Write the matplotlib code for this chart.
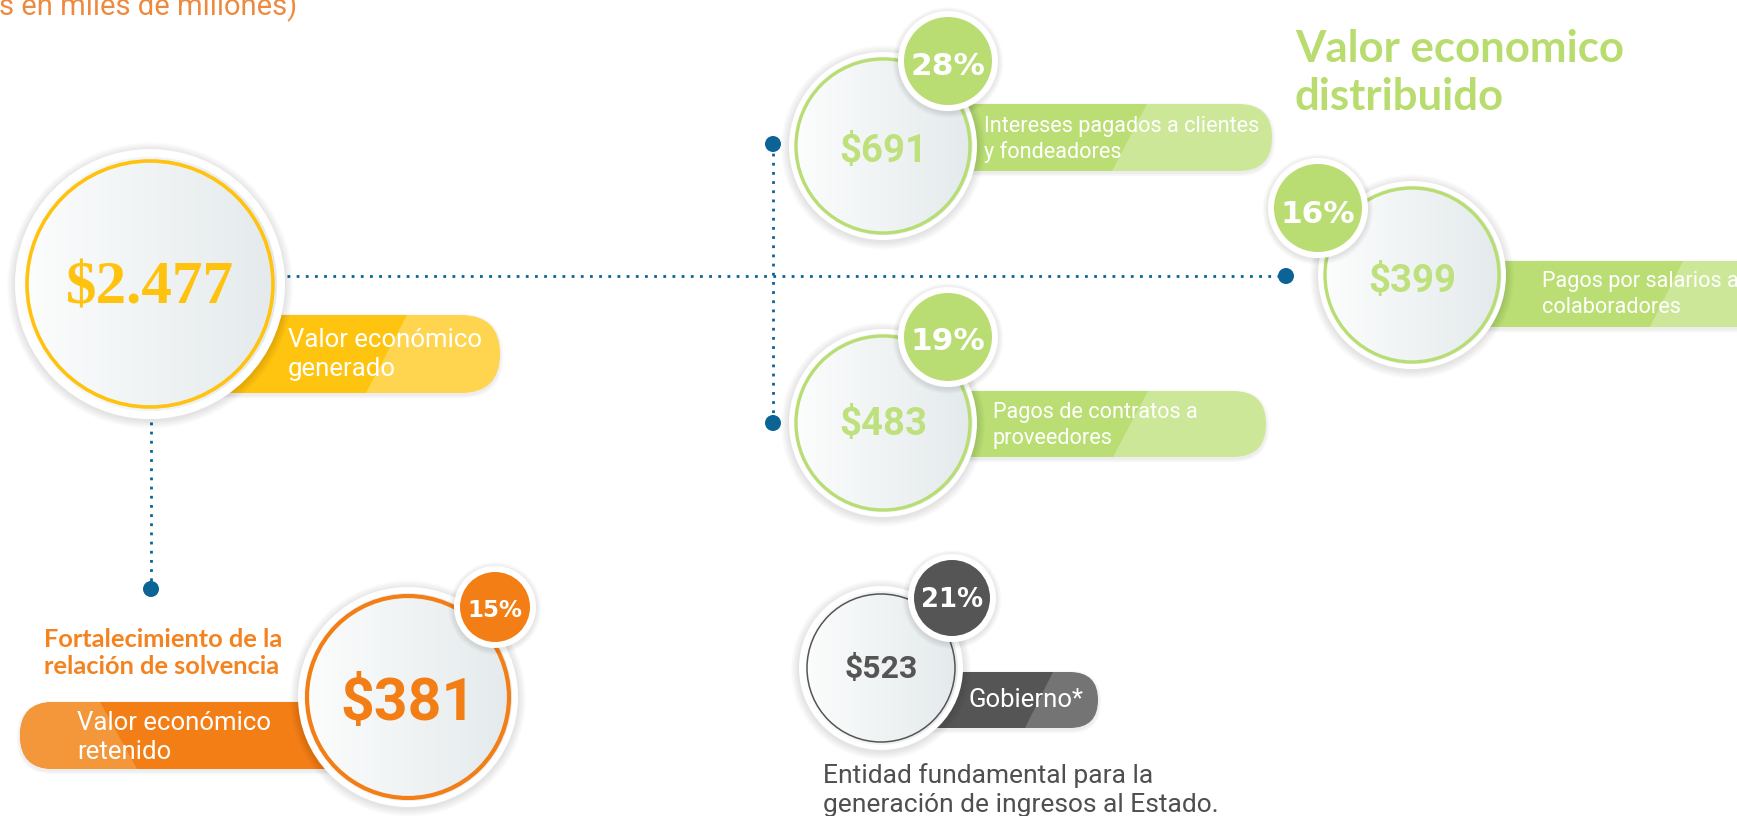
import matplotlib
matplotlib.use('Agg')
import matplotlib.pyplot as plt
import numpy as np
from matplotlib.patches import Circle, FancyBboxPatch, Polygon
from matplotlib.colors import LinearSegmentedColormap

# ---------------- data ----------------
labels = ['Valor económico\ngenerado',
          'Intereses pagados a clientes\ny fondeadores',
          'Pagos de contratos a\nproveedores',
          'Pagos por salarios a\ncolaboradores',
          'Gobierno*',
          'Valor económico\nretenido']
values = [2477, 691, 483, 399, 523, 381]          # miles de millones
shares = [None, 28, 19, 16, 21, 15]               # % del valor generado
title_dist = ['Valor economico', 'distribuido']
subtitle = 's en miles de millones)'
note_retenido = ['Fortalecimiento de la', 'relación de solvencia']
note_gob = ['Entidad fundamental para la', 'generación de ingresos al Estado.']


def money(v):
    s = f"{v:,}".replace(',', '.')
    return '$' + s

# ---------------- styles ----------------
THEMES = {
    'yellow': dict(ring='#FFC20E', dark='#FFC40F', light='#FFD54F', val='#FFC20E', badge='#FFC20E'),
    'green': dict(ring='#B8DD72', dark='#BADE74', light='#CDE799', val='#BFE17D', badge='#B9DD73'),
    'orange': dict(ring='#F47E16', dark='#F47E16', light='#F4973B', val='#F47E16', badge='#F47E16'),
    'gray': dict(ring='#555555', dark='#555555', light='#747474', val='#555555', badge='#555555'),
}
BLUE = '#0B6396'

# layout in pixel coordinates (figure 1737x816)
nodes = [
    dict(theme='yellow', c=(150, 284), r=123, lw=2.6, halo=135,
         pill=(190, 315, 500, 393), split=(407, 366), dark_left=True,
         lab_x=288, lab_base=[347, 376], lab_fs=18.5,
         val_base=303, val_fs=44, val_font='Liberation Serif', badge=None),
    dict(theme='green', c=(883, 146), r=87, lw=2.4, halo=94,
         pill=(900, 104, 1272, 171), split=(1147, 1112), dark_left=True,
         lab_x=984, lab_base=[132, 158], lab_fs=15.6,
         val_base=162, val_fs=27.5, val_font='Roboto',
         badge=((948, 61), 44, 22.5, 75)),
    dict(theme='green', c=(883, 423), r=87, lw=2.4, halo=94,
         pill=(900, 391, 1266, 457), split=(1148, 1113), dark_left=True,
         lab_x=993, lab_base=[418, 444], lab_fs=15.6,
         val_base=435, val_fs=27.5, val_font='Roboto',
         badge=((948, 337), 44, 22.5, 350)),
    dict(theme='green', c=(1412, 275), r=87, lw=2.4, halo=94,
         pill=(1450, 261, 1800, 327), split=(1683, 1650), dark_left=True,
         lab_x=1542, lab_base=[287, 313], lab_fs=15.6,
         val_base=292, val_fs=27.5, val_font='Roboto',
         badge=((1318, 208), 44, 22.5, 223)),
    dict(theme='gray', c=(881, 668), r=74, lw=1.1, halo=82,
         pill=(880, 672, 1098, 728), split=(1053, 1025), dark_left=True,
         lab_x=969, lab_base=[707], lab_fs=18.5,
         val_base=678, val_fs=23, val_font='Roboto',
         badge=((952, 598), 38, 18.7, 607)),
    dict(theme='orange', c=(408, 697), r=101, lw=3.0, halo=110,
         pill=(20, 702, 420, 769), split=(100, 137), dark_left=False,
         lab_x=77, lab_base=[730, 759], lab_fs=18.5,
         val_base=720, val_fs=42.5, val_font='Roboto',
         badge=((495, 607), 35, 16.5, 617)),
]

W, H = 1737, 816
fig = plt.figure(figsize=(W / 100, H / 100), dpi=100)
ax = fig.add_axes([0, 0, 1, 1])
ax.set_xlim(0, W)
ax.set_ylim(H, 0)
ax.axis('off')

gcmap = LinearSegmentedColormap.from_list('g', ['#FCFDFD', '#E4EAEC'])
grad = np.linspace(0, 1, 256).reshape(1, -1)


def soft_shadow(cx, cy, r, z, steps=9, a=0.010):
    for k in range(steps, 0, -1):
        ax.add_patch(Circle((cx, cy + 1.5), r + k * 0.9, facecolor='#000000',
                            edgecolor='none', alpha=a, zorder=z))


def pill(node, z=2):
    th = THEMES[node['theme']]
    x0, y0, x1, y1 = node['pill']
    h = y1 - y0
    for k in range(6, 0, -1):
        ax.add_patch(FancyBboxPatch((x0 - k * 0.6, y0 + 2 - k * 0.6), x1 - x0 + k * 1.2, h + k * 1.2,
                                    boxstyle=f"round,pad=0,rounding_size={h / 2 + k * 0.6}",
                                    facecolor='#000000', edgecolor='none', alpha=0.012, zorder=z))
    base_col = th['light'] if node['dark_left'] else th['dark']
    other_col = th['dark'] if node['dark_left'] else th['light']
    p = FancyBboxPatch((x0, y0), x1 - x0, h, boxstyle=f"round,pad=0,rounding_size={h / 2}",
                       facecolor=base_col, edgecolor='none', zorder=z + 0.1)
    ax.add_patch(p)
    st, sb = node['split']
    poly = Polygon([(x0 - 20, y0), (st, y0), (sb, y1), (x0 - 20, y1)], closed=True,
                   facecolor=other_col, edgecolor='none', zorder=z + 0.2)
    ax.add_patch(poly)
    poly.set_clip_path(p)


def disk(node, z=3):
    th = THEMES[node['theme']]
    cx, cy = node['c']
    r, halo = node['r'], node['halo']
    soft_shadow(cx, cy, halo, z)
    ax.add_patch(Circle((cx, cy), halo, facecolor='white', edgecolor='none', zorder=z + 0.1))
    R = r + (halo - r) * 0.35
    im = ax.imshow(grad, cmap=gcmap, extent=(cx - R, cx + R, cy + R, cy - R),
                   interpolation='bicubic', aspect='auto', zorder=z + 0.2)
    im.set_clip_path(Circle((cx, cy), R, transform=ax.transData))
    ax.add_patch(Circle((cx, cy), r, facecolor='none', edgecolor=th['ring'],
                        linewidth=node['lw'], zorder=z + 0.3))


def badge(node, pct, z=4):
    th = THEMES[node['theme']]
    (bx, by), br, fs, base = node['badge']
    soft_shadow(bx, by, br + 6, z, steps=6, a=0.014)
    ax.add_patch(Circle((bx, by), br + 6, facecolor='white', edgecolor='none', zorder=z + 0.1))
    ax.add_patch(Circle((bx, by), br, facecolor=th['badge'], edgecolor='none', zorder=z + 0.2))
    ax.text(bx, base, f"{pct}%", ha='center', va='baseline', color='white',
            fontsize=fs, fontweight='bold', family='DejaVu Sans', zorder=z + 0.3)


# ---------------- connectors ----------------
dot_style = dict(color=BLUE, linewidth=2.0, linestyle=(0, (1.0, 2.3)), zorder=1.5,
                 dash_capstyle='butt')
ax.plot([287, 1286], [276, 276], **dot_style)
ax.plot([773, 773], [144, 423], **dot_style)
ax.plot([151, 151], [422, 589], **dot_style)
for (dx, dy) in [(773, 144), (773, 423), (1286, 276), (151, 589)]:
    ax.add_patch(Circle((dx, dy), 8, facecolor=BLUE, edgecolor='none', zorder=1.6))

# ---------------- nodes ----------------
for i, node in enumerate(nodes):
    pill(node)
for i, node in enumerate(nodes):
    disk(node)
    th = THEMES[node['theme']]
    cx, cy = node['c']
    ax.text(cx, node['val_base'], money(values[i]), ha='center', va='baseline',
            color=th['val'], fontsize=node['val_fs'], fontweight='bold',
            family=node['val_font'], zorder=3.5)
    for line, b in zip(labels[i].split('\n'), node['lab_base']):
        ax.text(node['lab_x'], b, line, ha='left', va='baseline', color='white',
                fontsize=node['lab_fs'], family='Roboto', zorder=2.5)
    if shares[i] is not None:
        badge(node, shares[i])

# ---------------- free text ----------------
ax.text(-1, 15, subtitle, ha='left', va='baseline', color='#EE8A40', fontsize=21,
        family='Roboto', zorder=5)
for line, b in zip(title_dist, [62, 110]):
    ax.text(1295, b, line, ha='left', va='baseline', color='#B8DC6E', fontsize=31.5,
            fontweight='bold', family='Lato', zorder=5)
for line, b in zip(note_retenido, [647, 674]):
    ax.text(44, b, line, ha='left', va='baseline', color='#F4821E', fontsize=18.3,
            fontweight='bold', family='Lato', zorder=5)
for line, b in zip(note_gob, [783, 812]):
    ax.text(823, b, line, ha='left', va='baseline', color='#4F4F4F', fontsize=19,
            family='Roboto', zorder=5)

fig.savefig('out.png', dpi=100, facecolor='white')
